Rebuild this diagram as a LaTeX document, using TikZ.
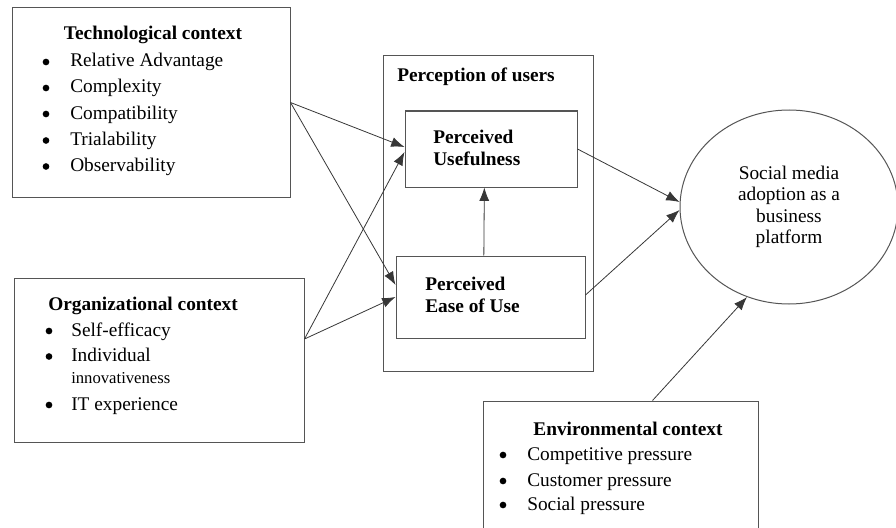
\documentclass[tikz,border=0pt]{standalone}
\usepackage{fontspec}
\setmainfont{Liberation Serif}
\usetikzlibrary{shapes.geometric, arrows.meta}

\definecolor{FrameGray}{RGB}{85, 85, 85}
\definecolor{LinkGray}{RGB}{55, 55, 55}

\begin{document}
\begin{tikzpicture}[
        x=0.75pt, y=-0.75pt,
        frame/.style={draw=FrameGray, line width=0.75pt, inner sep=0pt},
        title/.style={font=\bfseries\fontsize{14.5}{17}\selectfont, inner sep=0pt},
        item/.style={font=\fontsize{14.5}{17}\selectfont, inner sep=0pt, anchor=base west},
        dot/.style={circle, fill=black, inner sep=0pt, minimum size=5pt},
        link/.style={-{Latex[length=10pt, width=7.5pt]}, draw=LinkGray, line width=0.6pt}
    ]
        \useasboundingbox (0,0) rectangle (896,528);

        % boxes
        \node[frame, minimum width=208.5pt, minimum height=141.75pt] (tech) at (151,102.5) {};
        \node[frame, minimum width=217.5pt, minimum height=123pt] (org) at (159,360) {};
        \node[frame, minimum width=157.5pt, minimum height=236.25pt] (perc) at (488,213.5) {};
        \node[frame, minimum width=129pt, minimum height=57pt] (pu) at (491,149) {};
        \node[frame, minimum width=141.75pt, minimum height=61.5pt] (peou) at (490.5,297) {};
        \node[frame, minimum width=206.25pt, minimum height=108pt] (env) at (620.5,473) {};
        \node[frame, ellipse, minimum width=163.5pt, minimum height=145.5pt, align=center,
              font=\fontsize{14.5}{16}\selectfont] (sma) at (789,207)
              {Social media\\adoption as a\\business\\platform};

        % technological context
        \node[title, anchor=base] (techtitle) at (153,40) {Technological context};
        \foreach \i/\y/\txt in {1/67/Relative Advantage, 2/93/Complexity,
                                3/119/Compatibility, 4/145.5/Trialability,
                                5/171.5/Observability} {
            \node[dot] (techdot-\i) at (46,\y-5) {};
            \node[item] (techitem-\i) at (70,\y) {\txt};
        }

        % organizational context
        \node[title, anchor=base west] (orgtitle) at (48,310) {Organizational context};
        \foreach \i/\y/\txt in {1/336/Self-efficacy, 2/361.5/Individual, 3/410/IT experience} {
            \node[dot] (orgdot-\i) at (49,\y-5) {};
            \node[item] (orgitem-\i) at (71,\y) {\txt};
        }
        \node[item, font=\fontsize{12.5}{14}\selectfont] (orgitem-2b) at (71,383) {innovativeness};

        % environmental context
        \node[title, anchor=base] (envtitle) at (628,435) {Environmental context};
        \foreach \i/\y/\txt in {1/460/Competitive pressure, 2/486/Customer pressure,
                                3/510/Social pressure} {
            \node[dot] (envdot-\i) at (503,\y-5) {};
            \node[item] (envitem-\i) at (527,\y) {\txt};
        }

        % perception of users
        \node[title, anchor=base west] (perctitle) at (397,82) {Perception of users};
        \node[title, anchor=base west] (pu-1) at (433,143) {Perceived};
        \node[title, anchor=base west] (pu-2) at (433,165) {Usefulness};
        \node[title, anchor=base west] (peou-1) at (425,290) {Perceived};
        \node[title, anchor=base west] (peou-2) at (425,312) {Ease of Use};

        % links
        \draw[link] (tech.east) -- ([yshift=1.5pt]pu.west);
        \draw[link] (tech.east) -- ([yshift=9pt]peou.west);
        \draw[link] ([yshift=15.75pt]org.east) -- ([yshift=-2.25pt]pu.west);
        \draw[link] ([yshift=15.75pt]org.east) -- (peou.west);
        \draw[link] ([xshift=-5pt]peou.north) -- ([xshift=-5pt]pu.south);
        \draw[link] (pu.east) -- ([yshift=3.75pt]sma.west);
        \draw[link] ([yshift=1.5pt]peou.east) -- ([yshift=-2.25pt]sma.west);
        \draw[link] ([xshift=24pt]env.north) -- (sma.245);
    \end{tikzpicture}
\end{document}
